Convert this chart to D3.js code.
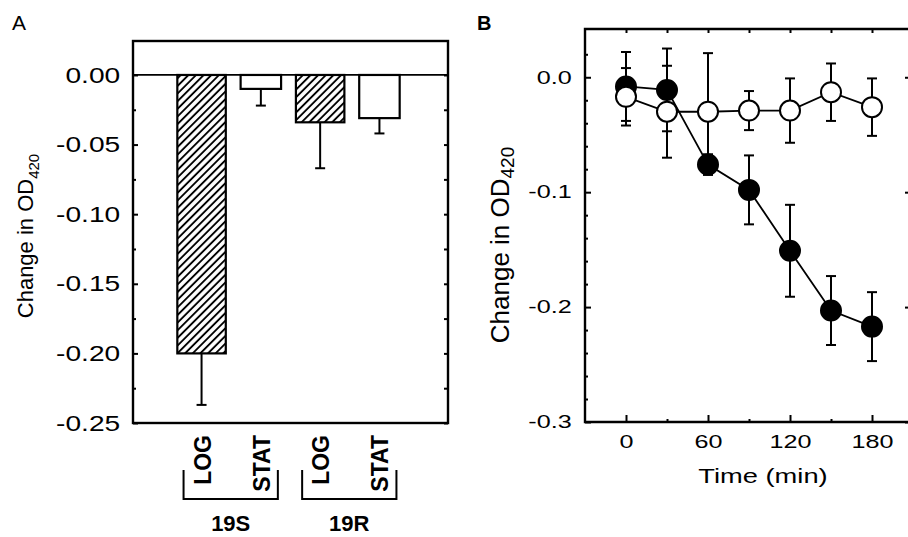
<!DOCTYPE html>
<html>
<head>
<meta charset="utf-8">
<script src="https://cdn.jsdelivr.net/npm/d3@7"></script>
<style>
  body { margin: 0; background: #fff; }
  svg text { font-family: "Liberation Sans", Arial, sans-serif; fill: #000; }
</style>
</head>
<body>
<div id="viz"></div>
<script>
// ---- panel A data ----
const strains = ['19S', '19R'];
const phases = ['LOG', 'STAT', 'LOG', 'STAT'];
const barValues = [-0.200, -0.010, -0.034, -0.031];
const barErrors = [0.037, 0.012, 0.033, 0.011];
const yTicksA = [0, -0.05, -0.10, -0.15, -0.20, -0.25];
const yMinorA = [-0.025, -0.075, -0.125, -0.175, -0.225];

// ---- panel B data ----
const times = [0, 30, 60, 90, 120, 150, 180];
const filledMean = [-0.008, -0.011, -0.076, -0.098, -0.151, -0.203, -0.217];
const filledErr = [0.030, 0.036, 0.009, 0.030, 0.040, 0.030, 0.030];
const openMean = [-0.017, -0.030, -0.030, -0.029, -0.029, -0.013, -0.026];
const openErr = [0.025, 0.040, 0.051, 0.017, 0.028, 0.025, 0.025];
const xTicksB = [0, 60, 120, 180];
const xMinorB = [30, 90, 150];
const yTicksB = [0, -0.1, -0.2, -0.3];
const yMinorB = [0.02, -0.02, -0.04, -0.06, -0.08, -0.12, -0.14, -0.16, -0.18, -0.22, -0.24, -0.26, -0.28];

const W = 908, H = 537;
const svg = d3.select('#viz').append('svg').attr('width', W).attr('height', H);

const defs = svg.append('defs');
const pat = defs.append('pattern')
  .attr('id', 'hatch')
  .attr('patternUnits', 'userSpaceOnUse')
  .attr('width', 5.4).attr('height', 5.4)
  .attr('patternTransform', 'rotate(45)');
pat.append('rect').attr('width', 5.4).attr('height', 5.4).attr('fill', '#fff');
pat.append('line').attr('x1', 2.7).attr('y1', 0).attr('x2', 2.7).attr('y2', 5.4)
  .attr('stroke', '#000').attr('stroke-width', 1.9);

// stretch tick labels horizontally (the original uses a wide face)
function widen(sel, k) { sel.selectAll('text').attr('transform', `scale(${k},1)`); }
function clean(g) { g.select('.domain').remove(); }

// ================= Panel A =================
const A = { l: 133, r: 448, t: 41, b: 423 };
const yA = d3.scaleLinear().domain([-0.25, 0.0244]).range([A.b, A.t]);
const xA = d3.scaleBand().domain(d3.range(phases.length)).range([164.5, 416.5]).padding(0.25);

const barsA = phases.map((p, i) => ({ i, phase: p, v: barValues[i], e: barErrors[i] }));

const gA = svg.append('g');

// error bars (downward only)
const eb = gA.selectAll('.errA').data(barsA).enter().append('g');
eb.append('line')
  .attr('x1', d => xA(d.i) + xA.bandwidth() / 2)
  .attr('x2', d => xA(d.i) + xA.bandwidth() / 2)
  .attr('y1', d => yA(d.v)).attr('y2', d => yA(d.v - d.e))
  .attr('stroke', '#000').attr('stroke-width', 2);
eb.append('line')
  .attr('x1', d => xA(d.i) + xA.bandwidth() / 2 - 5)
  .attr('x2', d => xA(d.i) + xA.bandwidth() / 2 + 5)
  .attr('y1', d => yA(d.v - d.e)).attr('y2', d => yA(d.v - d.e))
  .attr('stroke', '#000').attr('stroke-width', 2);

gA.selectAll('.bar').data(barsA).enter().append('rect')
  .attr('x', d => xA(d.i) + (d.phase === 'LOG' ? -2 : 2))
  .attr('width', d => xA.bandwidth() + (d.phase === 'LOG' ? 4 : -4))
  .attr('y', yA(0))
  .attr('height', d => yA(d.v) - yA(0))
  .attr('fill', d => d.phase === 'LOG' ? 'url(#hatch)' : '#fff')
  .attr('stroke', '#000').attr('stroke-width', 2.2);

// frame + zero line
gA.append('rect').attr('x', A.l).attr('y', A.t).attr('width', A.r - A.l).attr('height', A.b - A.t)
  .attr('fill', 'none').attr('stroke', '#000').attr('stroke-width', 2.4);
gA.append('line').attr('x1', A.l).attr('x2', A.r).attr('y1', yA(0)).attr('y2', yA(0))
  .attr('stroke', '#000').attr('stroke-width', 1.8);

// ticks and labels
const axA = gA.append('g').attr('transform', `translate(${A.l},0)`)
  .call(d3.axisLeft(yA).tickValues(yTicksA).tickSize(-5).tickPadding(10).tickFormat(d3.format('.2f')));
clean(axA);
axA.selectAll('line').attr('stroke-width', 2);
axA.selectAll('text').style('font-size', '22px').text(d => d3.format('.2f')(d).replace('−', '-'));
widen(axA, 1.28);
const axAm = gA.append('g').attr('transform', `translate(${A.l},0)`)
  .call(d3.axisLeft(yA).tickValues(yMinorA).tickSize(-3).tickFormat(''));
clean(axAm); axAm.selectAll('line').attr('stroke-width', 2);
const axAr = gA.append('g').attr('transform', `translate(${A.r},0)`)
  .call(d3.axisRight(yA).tickValues(yTicksA.concat(yMinorA)).tickSize(-4).tickFormat(''));
clean(axAr); axAr.selectAll('line').attr('stroke-width', 2);

// category labels
gA.selectAll('.cat').data(barsA).enter().append('text')
  .attr('transform', d => `translate(${xA(d.i) + xA.bandwidth() / 2 + 9},435) rotate(-90)`)
  .attr('text-anchor', 'end')
  .style('font-size', '23px').style('font-weight', 'bold')
  .text(d => d.phase);

// brackets
strains.forEach((s, k) => {
  const x0 = xA(2 * k) + xA.bandwidth() / 2 - 18;
  const x1 = xA(2 * k + 1) + xA.bandwidth() / 2 + 17;
  gA.append('path')
    .attr('d', `M${x0},470V499H${x1}V470`)
    .attr('fill', 'none').attr('stroke', '#000').attr('stroke-width', 2);
  gA.append('text')
    .attr('x', (x0 + x1) / 2).attr('y', 531)
    .attr('text-anchor', 'middle')
    .style('font-size', '22px').style('font-weight', 'bold')
    .text(s);
});

// y label
const labA = gA.append('text')
  .attr('transform', `translate(33,236) rotate(-90)`)
  .attr('text-anchor', 'middle').style('font-size', '22px');
labA.append('tspan').text('Change in OD');
labA.append('tspan').attr('dy', 6).style('font-size', '15px').text('420');

svg.append('text').attr('x', 12).attr('y', 30).style('font-size', '21px').text('A');

// ================= Panel B =================
const B = { l: 585, r: 913, t: 29, b: 422 };
const xB = d3.scaleLinear().domain([-30, 210]).range([B.l, B.r]);
const yB = d3.scaleLinear().domain([-0.3, 0.042]).range([B.b, B.t]);
const gB = svg.append('g');

const series = [
  { fill: '#000', mean: filledMean, err: filledErr },
  { fill: '#fff', mean: openMean, err: openErr }
];

series.forEach(s => {
  const pts = times.map((t, i) => ({ t, v: s.mean[i], e: s.err[i] }));
  const g = gB.append('g');
  g.append('path').datum(pts)
    .attr('d', d3.line().x(d => xB(d.t)).y(d => yB(d.v)))
    .attr('fill', 'none').attr('stroke', '#000').attr('stroke-width', 1.8);
  const e = g.selectAll('.err').data(pts).enter().append('g');
  e.append('line')
    .attr('x1', d => xB(d.t)).attr('x2', d => xB(d.t))
    .attr('y1', d => yB(d.v + d.e)).attr('y2', d => yB(d.v - d.e))
    .attr('stroke', '#000').attr('stroke-width', 2);
  [1, -1].forEach(sg => {
    e.append('line')
      .attr('x1', d => xB(d.t) - 5).attr('x2', d => xB(d.t) + 5)
      .attr('y1', d => yB(d.v + sg * d.e)).attr('y2', d => yB(d.v + sg * d.e))
      .attr('stroke', '#000').attr('stroke-width', 2);
  });
  g.selectAll('circle').data(pts).enter().append('circle')
    .attr('cx', d => xB(d.t)).attr('cy', d => yB(d.v)).attr('r', 10)
    .attr('fill', s.fill).attr('stroke', '#000').attr('stroke-width', 2);
});

// frame
gB.append('path')
  .attr('d', `M${B.r},${B.t}H${B.l}V${B.b}H${B.r}V${B.t}`)
  .attr('fill', 'none').attr('stroke', '#000').attr('stroke-width', 2.4);

const axBx = gB.append('g').attr('transform', `translate(0,${B.b})`)
  .call(d3.axisBottom(xB).tickValues(xTicksB).tickSize(0).tickPadding(13));
clean(axBx);
axBx.selectAll('text').style('font-size', '18px');
widen(axBx, 1.4);
gB.append('g').attr('transform', `translate(0,${B.b})`)
  .call(d3.axisBottom(xB).tickValues(xTicksB).tickSize(-7).tickFormat(''))
  .call(clean).selectAll('line').attr('stroke-width', 2);
gB.append('g').attr('transform', `translate(0,${B.b})`)
  .call(d3.axisBottom(xB).tickValues(xMinorB).tickSize(-3).tickFormat(''))
  .call(clean).selectAll('line').attr('stroke-width', 2);
gB.append('g').attr('transform', `translate(0,${B.t})`)
  .call(d3.axisTop(xB).tickValues(xTicksB.concat(xMinorB)).tickSize(-4).tickFormat(''))
  .call(clean).selectAll('line').attr('stroke-width', 2);

const axBy = gB.append('g').attr('transform', `translate(${B.l},0)`)
  .call(d3.axisLeft(yB).tickValues(yTicksB).tickSize(-6).tickPadding(9.5).tickFormat(d3.format('.1f')));
clean(axBy);
axBy.selectAll('line').attr('stroke-width', 2);
axBy.selectAll('text').style('font-size', '18px').text(d => d3.format('.1f')(d).replace('−', '-'));
widen(axBy, 1.4);
gB.append('g').attr('transform', `translate(${B.l},0)`)
  .call(d3.axisLeft(yB).tickValues(yMinorB).tickSize(-3).tickFormat(''))
  .call(clean).selectAll('line').attr('stroke-width', 2);
gB.append('g').attr('transform', `translate(${B.r},0)`)
  .call(d3.axisRight(yB).tickValues(yTicksB).tickSize(-8).tickFormat(''))
  .call(clean).selectAll('line').attr('stroke-width', 2);

gB.append('text').attr('x', 763).attr('y', 483)
  .attr('text-anchor', 'middle').style('font-size', '21px')
  .attr('transform', 'translate(763,0) scale(1.3,1) translate(-763,0)')
  .text('Time (min)');

const labB = gB.append('text')
  .attr('transform', `translate(509,245) rotate(-90)`)
  .attr('text-anchor', 'middle').style('font-size', '26px');
labB.append('tspan').text('Change in OD');
labB.append('tspan').attr('dy', 5).style('font-size', '19px').text('420');

svg.append('text').attr('x', 477).attr('y', 30).style('font-size', '20px').style('font-weight', 'bold').text('B');
</script>
</body>
</html>
